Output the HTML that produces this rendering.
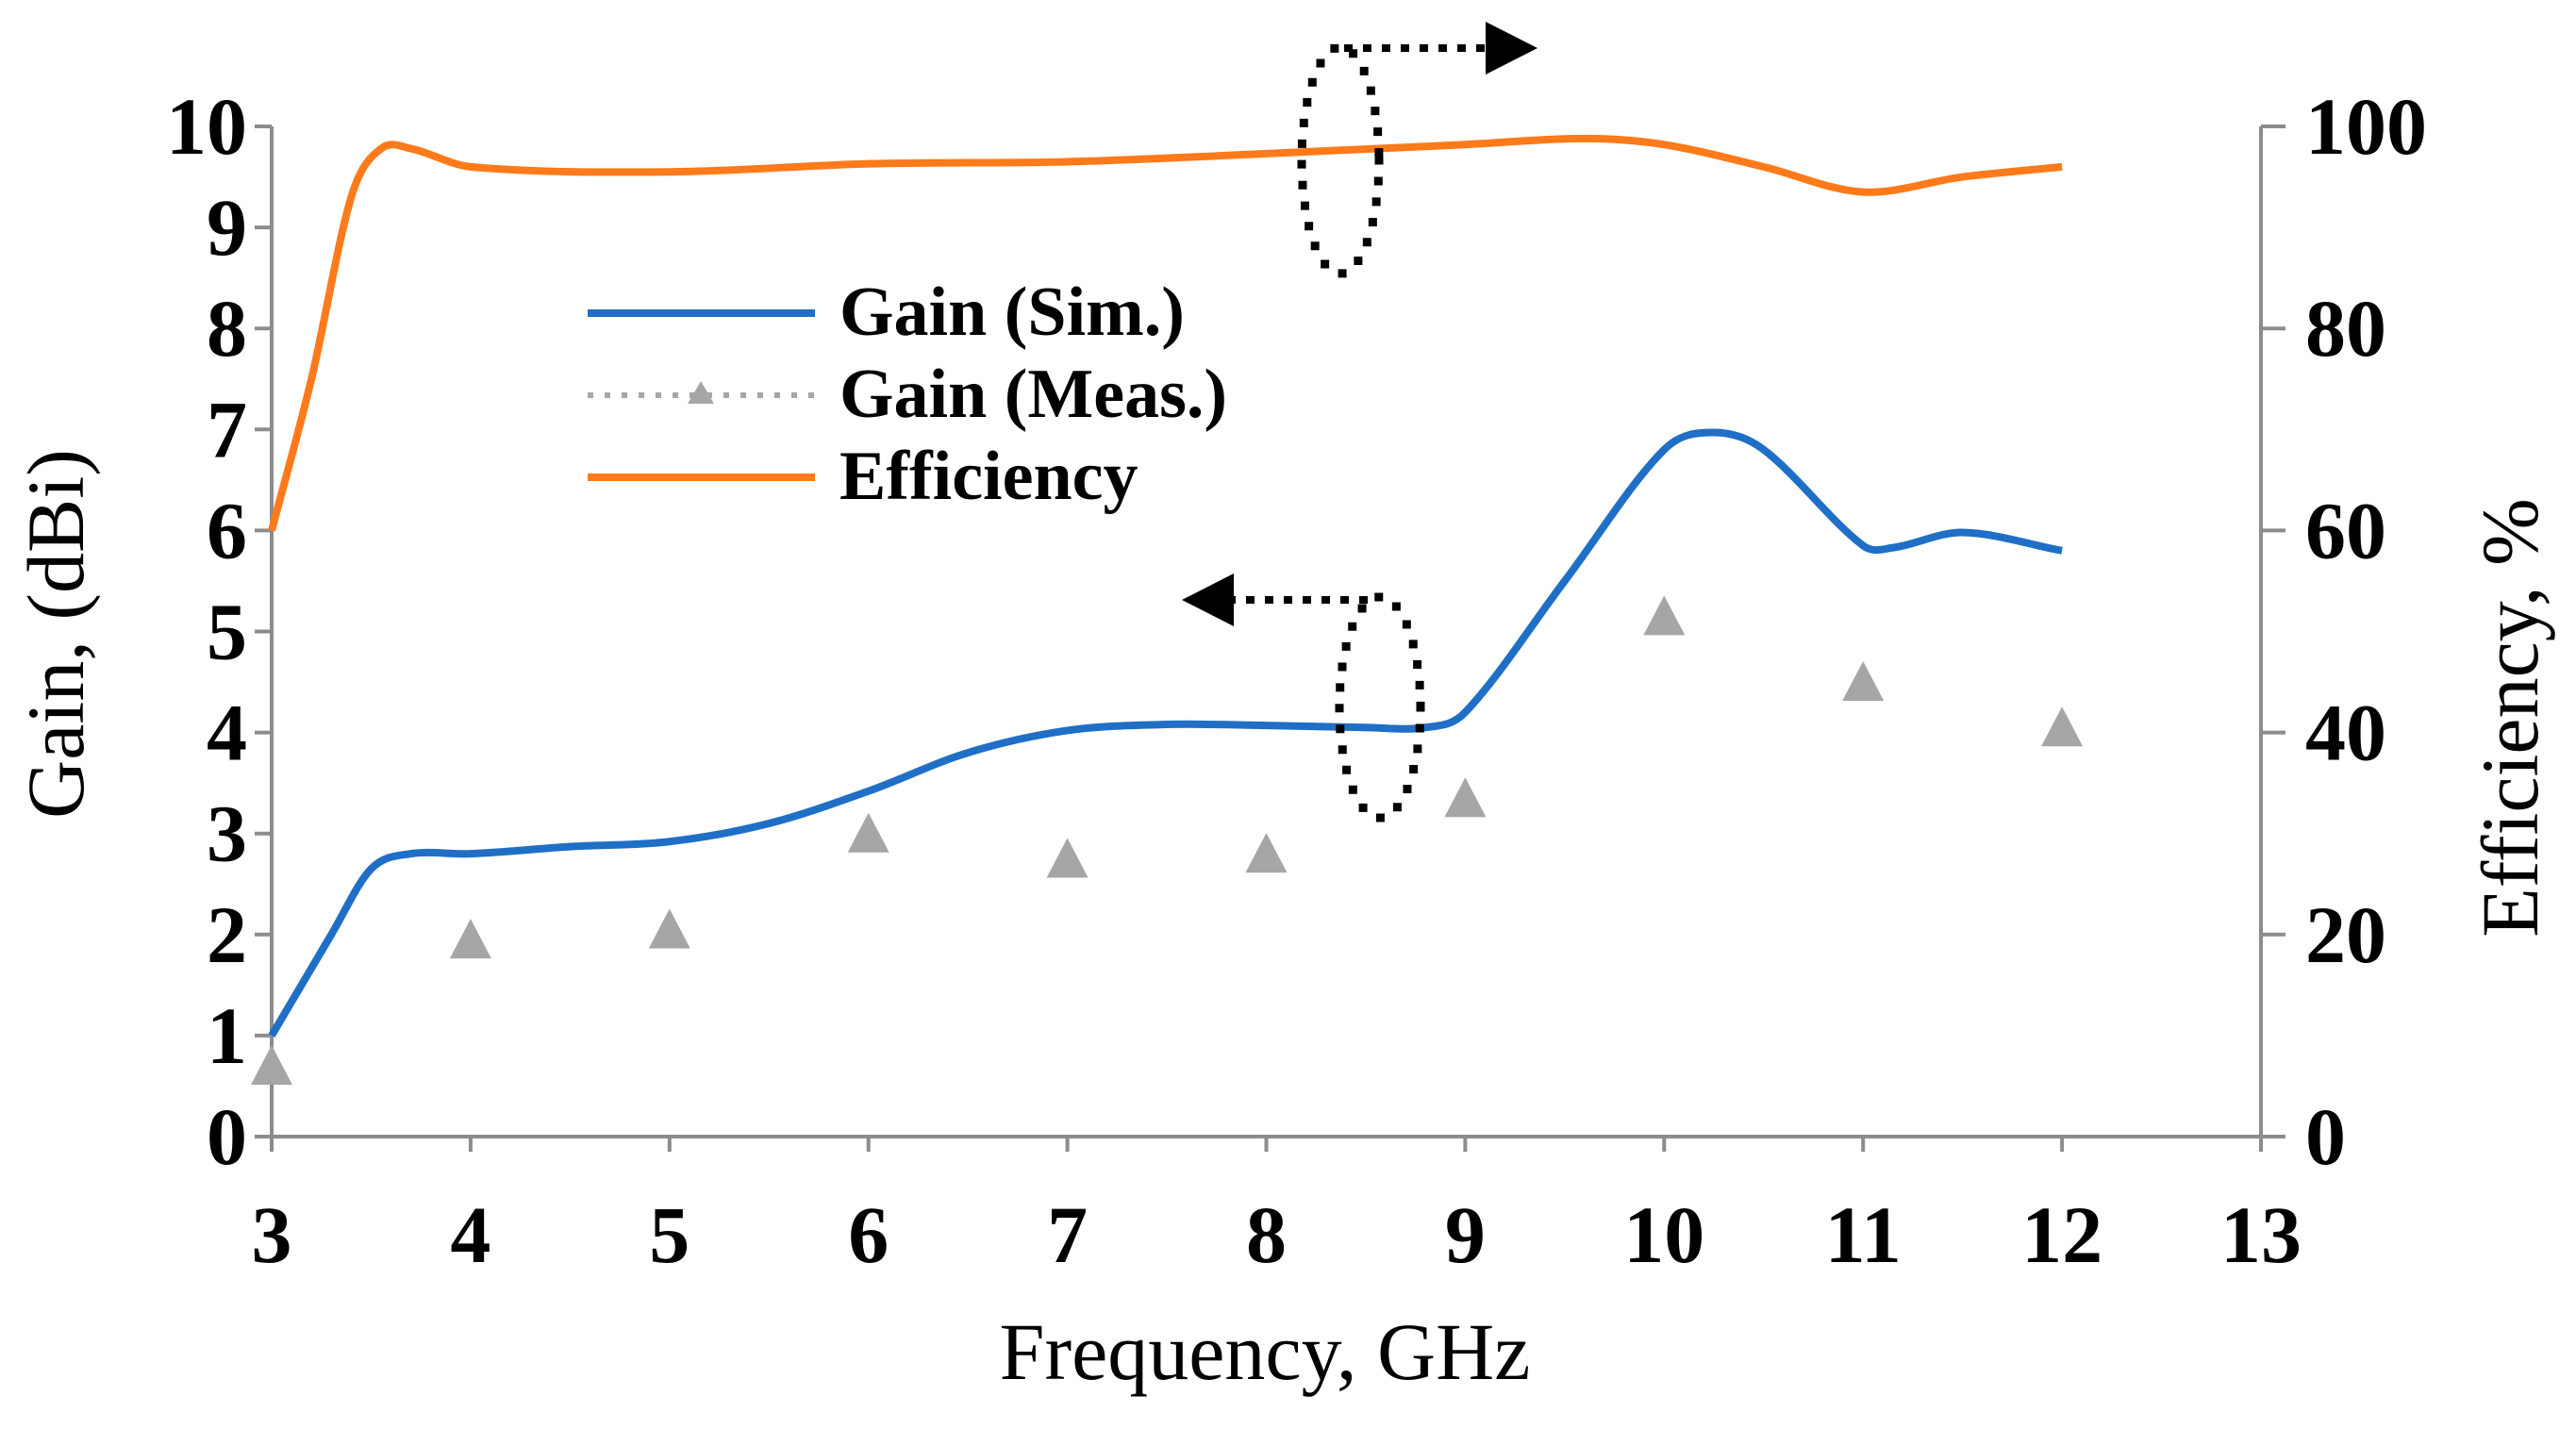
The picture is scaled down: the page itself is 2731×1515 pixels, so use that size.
<!DOCTYPE html>
<html><head><meta charset="utf-8"><style>
html,body{margin:0;padding:0;background:#fff;}
svg{display:block;font-family:"Liberation Serif",serif;}
</style></head><body>
<svg id="chart" width="2731" height="1515" viewBox="0 0 2731 1515">
<g id="axes"></g>
<g id="series"></g>
<g id="annot">
  <ellipse cx="1421" cy="170" rx="41" ry="120" fill="none" stroke="#000" stroke-width="9" stroke-dasharray="0 22" stroke-linecap="square"/>
  <line x1="1425" y1="51" x2="1580" y2="51" stroke="#000" stroke-width="8" stroke-dasharray="9 11"/>
  <polygon points="1575,23 1630,51 1575,79" fill="#000"/>
  <ellipse cx="1463" cy="750" rx="43" ry="117" fill="none" stroke="#000" stroke-width="9" stroke-dasharray="0 22" stroke-linecap="square"/>
  <line x1="1450" y1="636" x2="1305" y2="636" stroke="#000" stroke-width="8" stroke-dasharray="9 11"/>
  <polygon points="1308,608 1253,636 1308,664" fill="#000"/>
</g>
<g font-weight="bold" font-size="74">
  <line x1="623" y1="332" x2="864" y2="332" stroke="#1f6fc6" stroke-width="8"/>
  <text x="890" y="355">Gain (Sim.)</text>
  <line x1="623" y1="419" x2="864" y2="419" stroke="#a6a6a6" stroke-width="6" stroke-dasharray="6 12"/>
  <polygon points="743,404 757,428 729,428" fill="#a6a6a6"/>
  <text x="890" y="442">Gain (Meas.)</text>
  <line x1="623" y1="506" x2="864" y2="506" stroke="#ff7a1a" stroke-width="8"/>
  <text x="890" y="529">Efficiency</text>
</g>
</svg>
<script>
const xTicks=[3,4,5,6,7,8,9,10,11,12,13];
const gainTicks=[0,1,2,3,4,5,6,7,8,9,10];
const effTicks=[0,20,40,60,80,100];
const simFreq=[3,3.3,3.5,3.7,4,4.5,5,5.5,6,6.5,7,7.5,8,8.5,8.8,9,9.5,10,10.25,10.5,11,11.15,11.5,12];
const simGain=[1.0,2.0,2.65,2.8,2.8,2.87,2.92,3.1,3.42,3.8,4.02,4.08,4.07,4.05,4.05,4.2,5.5,6.8,6.97,6.8,5.85,5.83,5.98,5.8];
const effFreq=[3,3.2,3.4,3.55,3.7,4,5,6,7,8,9,9.6,10,10.5,11,11.5,12];
const effVal=[60,75,93,97.8,97.8,96,95.5,96.3,96.5,97.3,98.2,98.8,98.2,96,93.5,95,96];
const measFreq=[3,4,5,6,7,8,9,10,11,12];
const measGain=[0.7,1.95,2.05,3.0,2.75,2.8,3.35,5.15,4.5,4.05];

const NS='http://www.w3.org/2000/svg';
const X0=288,X1=2397,Y0=1205,Y1=134;
const xs=f=>X0+(f-3)/10*(X1-X0);
const yg=g=>Y0-g/10*(Y0-Y1);
const ye=e=>Y0-e/100*(Y0-Y1);
function mk(tag,attrs,parent){const e=document.createElementNS(NS,tag);for(const k in attrs)e.setAttribute(k,attrs[k]);parent.appendChild(e);return e;}
const axes=document.getElementById('axes'),ser=document.getElementById('series');
const ax='#8c8c8c';
let e;
e=mk('line',{x1:X0,y1:Y1,x2:X0,y2:Y0+16,stroke:ax,'stroke-width':4},axes);


e=mk('line',{x1:X1,y1:Y1,x2:X1,y2:Y0+16,stroke:ax,'stroke-width':4},axes);


e=mk('line',{x1:X0-16,y1:Y0,x2:X1,y2:Y0,stroke:ax,'stroke-width':4},axes);


xTicks.forEach(t=>{
  e=mk('line',{x1:xs(t),y1:Y0,x2:xs(t),y2:Y0+16,stroke:ax,'stroke-width':4},axes);
  
  
  e=mk('text',{x:xs(t),y:1338,'text-anchor':'middle','font-size':86,'font-weight':'bold'},axes);
  e.textContent=t;
  
  
});
gainTicks.forEach(t=>{
  e=mk('line',{x1:X0-18,y1:yg(t),x2:X0,y2:yg(t),stroke:ax,'stroke-width':4},axes);
  
  
  e=mk('text',{x:262,y:yg(t)+29,'text-anchor':'end','font-size':86,'font-weight':'bold'},axes);
  e.textContent=t;
  
  
});
effTicks.forEach(t=>{
  e=mk('line',{x1:X1,y1:ye(t),x2:X1+26,y2:ye(t),stroke:ax,'stroke-width':4},axes);
  
  
  e=mk('text',{x:2444,y:ye(t)+29,'text-anchor':'start','font-size':86,'font-weight':'bold'},axes);
  e.textContent=t;
  
  
});
e=mk('text',{x:0,y:0,'text-anchor':'middle','font-size':86,transform:'translate(88,672) rotate(-90)'},axes);
e.textContent='Gain, (dBi)';


e=mk('text',{x:0,y:0,'text-anchor':'middle','font-size':86,transform:'translate(2690,761) rotate(-90)'},axes);
e.textContent='Efficiency, %';


e=mk('text',{x:1341,y:1462,'text-anchor':'middle','font-size':86},axes);
e.textContent='Frequency, GHz';



function smooth(pts){
  const n=pts.length,m=[];
  for(let i=0;i<n;i++){
    const a=pts[Math.max(i-1,0)],b=pts[Math.min(i+1,n-1)];
    m.push((b[1]-a[1])/(b[0]-a[0]));
  }
  let d='M'+pts[0][0]+','+pts[0][1];
  for(let i=0;i<n-1;i++){
    const p1=pts[i],p2=pts[i+1],dx=(p2[0]-p1[0])/3;
    d+='C'+(p1[0]+dx)+','+(p1[1]+m[i]*dx)+' '+(p2[0]-dx)+','+(p2[1]-m[i+1]*dx)+' '+p2[0]+','+p2[1];
  }
  return d;
}
e=mk('path',{d:smooth(effFreq.map((f,i)=>[xs(f),ye(effVal[i])])),fill:'none',stroke:'#ff7a1a','stroke-width':8},ser);


e=mk('path',{d:smooth(simFreq.map((f,i)=>[xs(f),yg(simGain[i])])),fill:'none',stroke:'#1f6fc6','stroke-width':8},ser);


measFreq.forEach((f,i)=>{
  const x=xs(f),y=yg(measGain[i]);
  e=mk('polygon',{points:`${x},${y-22} ${x+22},${y+20} ${x-22},${y+20}`,fill:'#a6a6a6'},ser);
  
  
});
</script>
</body></html>
